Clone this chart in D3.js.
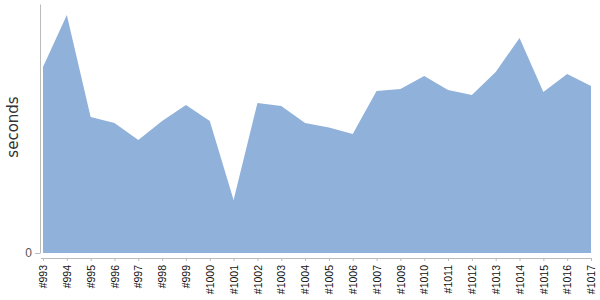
<!DOCTYPE html>
<html>
<head>
<meta charset="utf-8">
<script src="https://cdn.jsdelivr.net/npm/d3@7"></script>
<style>
  body { margin: 0; background: #fff; }
  svg { display: block; font-family: "DejaVu Sans", sans-serif; }
  .axis path, .axis line { stroke: #bbb; }
</style>
</head>
<body>
<div id="chart"></div>
<script>
// build labels and durations (seconds)
var builds = ["#993", "#994", "#995", "#996", "#997", "#998", "#999", "#1000",
    "#1001", "#1002", "#1003", "#1004", "#1005", "#1006", "#1007", "#1009",
    "#1010", "#1011", "#1012", "#1013", "#1014", "#1015", "#1016", "#1017"];
var seconds = [186, 238, 136, 130, 113, 132, 148, 132,
    53, 150, 147, 130, 125.5, 119, 162, 164,
    177, 163, 158, 181, 215, 161, 179, 167];
var yTicks = [0];
var yMax = 249;

var svgWidth = 600;
var svgHeight = 300;

var svg = d3.select("#chart")
    .append("svg")
    .attr("width", svgWidth)
    .attr("height", svgHeight);

var data = builds.map(function(b, i) {
    return { build: b, value: seconds[i] };
});

// scales
var xScale = d3.scalePoint()
    .domain(builds)
    .range([43, 591]);
var yScale = d3.scaleLinear()
    .domain([0, yMax])
    .range([253, 4]);

// area
var area = d3.area()
    .x(d => xScale(d.build))
    .y0(yScale(0))
    .y1(d => yScale(d.value));

svg.append("path")
    .datum(data)
    .attr("d", area)
    .attr("fill", "#8fb1da");

// y axis
var yAxis = d3.axisLeft(yScale)
    .tickValues(yTicks)
    .tickSize(5)
    .tickSizeOuter(0)
    .tickPadding(3);
var yG = svg.append("g")
    .attr("class", "axis")
    .attr("transform", "translate(40,0)")
    .call(yAxis);
yG.selectAll("text")
    .attr("fill", "#555")
    .style("font-size", "12px");

// x axis
var xAxis = d3.axisBottom(xScale)
    .tickSize(3)
    .tickSizeOuter(0);
var xG = svg.append("g")
    .attr("class", "axis")
    .attr("transform", "translate(0,258)")
    .call(xAxis);
xG.select(".domain")
    .attr("d", "M41,0.5H591");
xG.selectAll("text")
    .attr("transform", "rotate(-90)")
    .attr("text-anchor", "end")
    .attr("x", -7)
    .attr("y", 0)
    .attr("dy", "0.35em")
    .attr("fill", "#111")
    .style("font-size", "10.5px");

// y label
svg.append("text")
    .attr("transform", "translate(18,127) rotate(-90)")
    .attr("text-anchor", "middle")
    .attr("fill", "#333")
    .style("font-size", "15px")
    .text("seconds");
</script>
</body>
</html>
